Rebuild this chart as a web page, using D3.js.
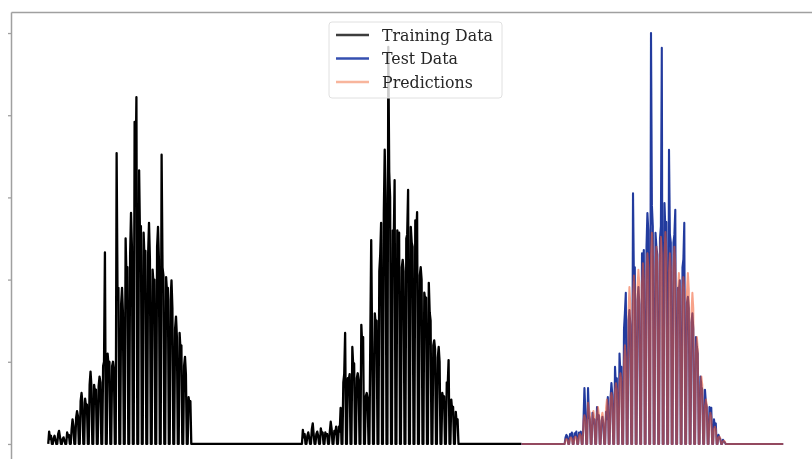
<!DOCTYPE html>
<html>
<head>
<meta charset="utf-8">
<script src="https://cdn.jsdelivr.net/npm/d3@7"></script>
<style>
  html, body { margin: 0; padding: 0; background: #fff; }
  svg { display: block; }
</style>
</head>
<body>
<svg id="chart" width="812" height="459"></svg>
<script>
// ---------------- DATA ----------------
// time index: one unit per sample, 5 samples per day (night zeros included)
const seriesNames = ["Training Data", "Test Data", "Predictions"];
const yTicks = [0, 100, 200, 300, 400, 500];

const trainHump1Start = 0;
const trainHump1 = [
  0,15,6,10,0, 0,7,10,5,0, 0,12,16,9,0, 0,6,8,4,0, 0,14,9,11,0,
  0,18,30,22,0, 0,32,40,34,0, 0,52,62,50,0, 0,55,45,48,0, 0,72,88,70,0,
  0,72,62,66,0, 0,70,82,75,0, 0,95,100,233,0, 0,110,95,100,0, 0,95,100,90,0,
  0,354,180,190,0, 0,170,190,160,0, 0,250,200,215,0, 0,230,281,240,0, 0,392,320,422,0,
  0,333,250,265,0, 0,257,225,235,0, 0,230,269,225,0, 0,212,195,200,0, 0,240,264,225,0,
  0,352,215,205,0, 0,203,185,190,0, 0,175,199,165,0, 0,140,155,130,0, 0,135,115,120,0,
  0,95,106,85,0, 0,57,48,52,0
];

const trainHump2Start = 282;
const trainHump2 = [
  0,17,8,12,0, 0,10,14,8,0, 0,18,25,12,0, 0,12,15,10,0, 0,19,12,14,0,
  0,14,10,12,0, 0,15,27,18,0, 0,16,12,21,0, 0,21,15,44,0, 0,75,85,135,0,
  0,80,78,85,0, 0,118,95,98,0, 0,80,86,78,0, 0,145,120,130,0, 0,58,62,56,0,
  0,130,248,125,0, 0,159,145,150,0, 0,210,230,269,0, 0,280,358,300,0, 0,483,331,300,0,
  0,260,245,321,0, 0,260,240,257,0, 0,215,224,210,0, 0,250,255,309,0, 0,264,245,240,0,
  0,272,250,282,0, 0,205,215,200,0, 0,184,175,178,0, 0,196,160,150,0, 0,120,126,115,0,
  0,105,118,100,0, 0,62,55,58,0, 0,75,70,102,0, 0,54,40,45,0, 0,39,25,30,0
];
const trainEnd = 526;

const testStart = 526;
const testHumpStart = 574;
const testHump = [
  0,8,11,9,0, 0,12,10,14,0, 0,13,11,15,0, 0,14,12,15,0, 0,30,68,40,0,
  0,68,35,30,0, 0,38,25,30,0, 0,45,30,35,0, 0,28,33,25,0, 0,39,30,57,0,
  0,55,74,60,0, 0,94,70,80,0, 0,110,85,94,0, 0,140,160,184,0, 0,150,163,145,0,
  0,305,200,215,0, 0,175,191,170,0, 0,232,210,236,0, 0,240,281,260,0, 0,500,290,265,0,
  0,257,240,230,0, 0,250,265,482,0, 0,293,260,270,0, 0,358,255,245,0, 0,245,255,285,0,
  0,190,185,199,0, 0,215,225,269,0, 0,172,179,165,0, 0,148,159,140,0, 0,130,118,110,0,
  0,82,70,66,0, 0,66,50,45,0, 0,45,40,44,0, 0,30,21,25,0, 0,11,8,6,0,
  0,5,3,2,0
];
const predHump = [
  0,5,6,5,0, 0,7,8,6,0, 0,8,9,8,0, 0,10,12,10,0, 0,28,35,30,0,
  0,50,42,38,0, 0,34,40,32,0, 0,38,45,36,0, 0,32,38,30,0, 0,44,54,46,0,
  0,52,62,55,0, 0,64,74,66,0, 0,75,86,78,0, 0,100,120,105,0, 0,160,191,170,0,
  0,180,205,185,0, 0,190,212,195,0, 0,195,220,200,0, 0,210,232,215,0, 0,230,257,235,0,
  0,215,240,220,0, 0,225,252,230,0, 0,230,258,235,0, 0,210,232,212,0, 0,215,240,218,0,
  0,185,208,190,0, 0,180,203,185,0, 0,185,208,188,0, 0,160,184,165,0, 0,112,130,115,0,
  0,70,82,72,0, 0,46,54,48,0, 0,32,38,33,0, 0,18,21,18,0, 0,8,9,7,0,
  0,3,4,3,0
];
const testEnd = 817;

// ---------------- BUILD SERIES ----------------
const toPts = (start, arr) => arr.map((v, i) => ({t: start + i, v}));
const training = [
  ...toPts(trainHump1Start, trainHump1),
  ...toPts(trainHump2Start, trainHump2),
  {t: trainEnd, v: 0}
];
const test = [{t: testStart, v: 0}, ...toPts(testHumpStart, testHump), {t: testEnd, v: 0}];
const preds = [{t: testStart, v: 0}, ...toPts(testHumpStart, predHump), {t: testEnd, v: 0}];

// ---------------- DRAW ----------------
const svg = d3.select("#chart");
const defs = svg.append("defs");
defs.append("filter").attr("id", "soft").attr("x", "-5%").attr("y", "-5%").attr("width", "110%").attr("height", "110%")
  .append("feGaussianBlur").attr("stdDeviation", 0.6);

const root = svg.append("g").attr("filter", "url(#soft)");

const axL = 11.5, axR = 820, axT = 12.5, axB = 464.5;

const xMin = 0, xMax = testEnd;
const xPad = (xMax - xMin) * 0.05;
const x = d3.scaleLinear().domain([xMin - xPad, xMax + xPad]).range([axL, axR]);
const y = d3.scaleLinear().domain([-25, 525]).range([axB, axT]);

const colors = {train: "#000000", test: "#233a9e", pred: "#f0562c"};

const line = d3.line().x(d => x(d.t)).y(d => y(d.v));

root.append("path").datum(training)
  .attr("d", line).attr("fill", "none")
  .attr("stroke", colors.train).attr("stroke-width", 2.3).attr("stroke-linejoin", "round");
root.append("path").datum(test)
  .attr("d", line).attr("fill", "none")
  .attr("stroke", colors.test).attr("stroke-width", 2.1).attr("stroke-linejoin", "round");
root.append("path").datum(preds)
  .attr("d", line).attr("fill", "none")
  .attr("stroke", colors.pred).attr("stroke-width", 2.0).attr("stroke-opacity", 0.55).attr("stroke-linejoin", "round");

// spines
const spine = "#a0a0a0";
root.append("line").attr("x1", axL).attr("x2", axL).attr("y1", axT).attr("y2", axB)
  .attr("stroke", spine).attr("stroke-width", 1.5);
root.append("line").attr("x1", axL).attr("x2", axR).attr("y1", axT).attr("y2", axT)
  .attr("stroke", spine).attr("stroke-width", 1.5);

// y ticks (labels fall outside the visible picture)
const yAxis = d3.axisLeft(y).tickValues(yTicks).tickSize(3.5).tickFormat(() => "");
const gy = root.append("g").attr("transform", `translate(${axL},0)`).call(yAxis);
gy.select(".domain").remove();
gy.selectAll(".tick line").attr("stroke", spine).attr("stroke-width", 1.3);

// legend
const lg = root.append("g").attr("transform", "translate(329,22)");
lg.append("rect").attr("width", 173).attr("height", 76).attr("rx", 3)
  .attr("fill", "#fff").attr("fill-opacity", 0.8)
  .attr("stroke", "#e0e0e0").attr("stroke-width", 1);
const legItems = [
  {name: seriesNames[0], color: "#3c3c3c"},
  {name: seriesNames[1], color: "#3550b0"},
  {name: seriesNames[2], color: "#f8b59c"}
];
legItems.forEach((d, i) => {
  const cy = 13 + i * 23.5;
  lg.append("line").attr("x1", 7).attr("x2", 40).attr("y1", cy).attr("y2", cy)
    .attr("stroke", d.color).attr("stroke-width", 2.4);
  lg.append("text").attr("x", 53).attr("y", cy).attr("dy", "0.35em")
    .attr("font-family", "DejaVu Serif, serif").attr("font-size", 15.8)
    .attr("fill", "#262626").text(d.name);
});
</script>
</body>
</html>
